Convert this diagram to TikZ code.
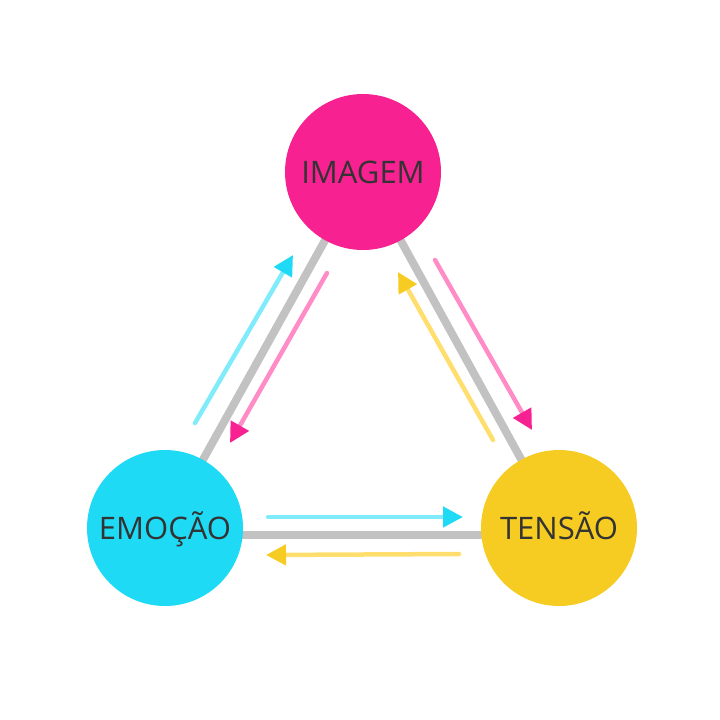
\documentclass[tikz,border=0pt]{standalone}
\usepackage{fontspec}
\setmainfont{Open Sans}
\usetikzlibrary{arrows.meta}
\definecolor{pinkc}{HTML}{F72192}
\definecolor{cyanc}{HTML}{1FDAF5}
\definecolor{yellowc}{HTML}{F6CB22}
\definecolor{pinkl}{HTML}{FF8CC6}
\definecolor{cyanl}{HTML}{80EBFA}
\definecolor{yellowl}{HTML}{FFDE6E}
\definecolor{grayl}{HTML}{C2C2C2}
\definecolor{txt}{HTML}{333333}
\tikzset{
  x=1pt,y=-1pt,
  bubble/.style={circle,minimum size=156pt,inner sep=0pt,text=txt,text height=22pt,text depth=0pt,font=\fontsize{31}{36}\selectfont},
  link/.style={grayl,line width=8pt},
  flow/.style={line width=4.5pt,line cap=round,#1l,-{Triangle[length=20pt,width=20pt,color=#1c]}},
}
\begin{document}
\begin{tikzpicture}
\useasboundingbox (0,0) rectangle (720,720);
\coordinate (ci) at (363,172);
\coordinate (ce) at (165,528);
\coordinate (ct) at (559,528);
\coordinate (be) at (165,535);
\coordinate (bt) at (559,535);
\draw[link] (ci) -- (ce);
\draw[link] (ci) -- (ct);
\draw[link] (be) -- (bt);
\node[bubble,fill=pinkc] (img) at (ci) {IMAGEM};
\node[bubble,fill=cyanc] (emo) at (ce) {EMOÇÃO};
\node[bubble,fill=yellowc] (ten) at (ct) {TENSÃO};
% left edge
\coordinate (a1) at (195,423); \coordinate (a2) at (293,255);
\draw[flow=cyan] (a1) -- (a2);
\coordinate (b1) at (327,273); \coordinate (b2) at (230,443);
\draw[flow=pink] (b1) -- (b2);
% right edge
\coordinate (c1) at (435,260); \coordinate (c2) at (532,430);
\draw[flow=pink] (c1) -- (c2);
\coordinate (d1) at (493,440); \coordinate (d2) at (398,272);
\draw[flow=yellow] (d1) -- (d2);
% bottom edge
\coordinate (e1) at (268,517); \coordinate (e2) at (463,517);
\draw[flow=cyan] (e1) -- (e2);
\coordinate (f1) at (459,554); \coordinate (f2) at (266,555);
\draw[flow=yellow] (f1) -- (f2);
\end{tikzpicture}
\end{document}
